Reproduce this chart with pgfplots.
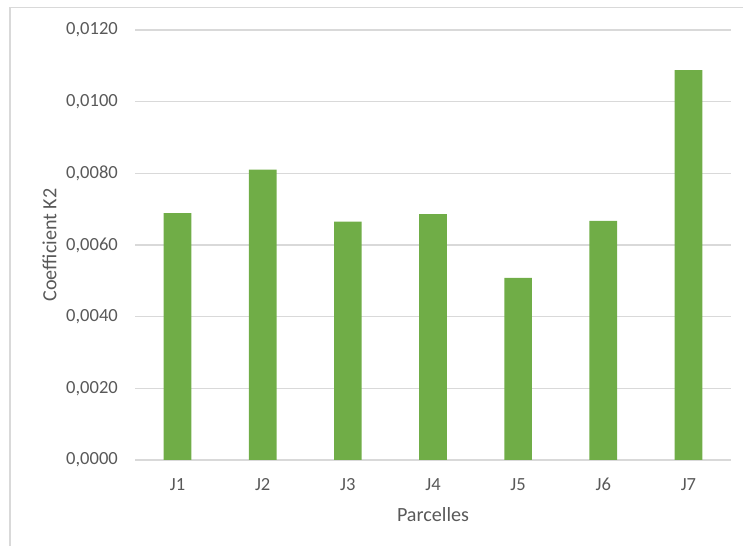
\documentclass[border=0pt]{standalone}
\usepackage{pgfplots}
\pgfplotsset{compat=1.18}
\usepackage{fontspec}
\setmainfont{Carlito}

\definecolor{bargreen}{HTML}{70AD47}
\definecolor{gridgray}{HTML}{D9D9D9}
\definecolor{textgray}{HTML}{595959}
\definecolor{framegray}{HTML}{D9D9D9}

\begin{document}
\begin{tikzpicture}
  % overall canvas of the chart area
  \path[use as bounding box] (0,0) rectangle (743bp,546bp);
  % chart frame (left and top edges)
  \draw[framegray, line width=1.2bp] (10bp,0) -- (10bp,538.7bp) -- (743bp,538.7bp);

  \begin{axis}[
    at={(135bp,86bp)}, anchor=south west,
    scale only axis,
    width=596bp, height=430bp,
    ybar, bar width=27.7bp,
    xmin=-0.5, xmax=6.5,
    ymin=0, ymax=0.012,
    xtick=data,
    xticklabels={J1,J2,J3,J4,J5,J6,J7},
    ytick={0,0.002,0.004,0.006,0.008,0.010,0.012},
    scaled y ticks=false,
    /pgf/number format/.cd, fixed, fixed zerofill, precision=4, use comma, assume math mode=true,
    /pgfplots/.cd,
    major tick length=0pt,
    axis line style={draw=none},
    ymajorgrids,
    grid style={gridgray, line width=1.2bp},
    tick label style={font=\fontsize{18.6}{22}\selectfont, text=textgray},
    yticklabel style={inner sep=0pt, xshift=-17bp},
    xticklabel style={inner sep=0pt, yshift=-18bp},
    label style={font=\fontsize{20.2}{24}\selectfont, text=textgray},
    xlabel={Parcelles},
    ylabel={Coefficient K2},
    xlabel style={at={(axis description cs:0.5,0)}, anchor=center, yshift=-55bp},
    ylabel style={at={(axis description cs:0,0.5)}, anchor=center, rotate=0, yshift=85.5bp},
  ]
    \addplot[fill=bargreen, draw=none] coordinates {
      (0,0.00689) (1,0.00810) (2,0.00665) (3,0.00686)
      (4,0.00508) (5,0.00667) (6,0.01088)
    };
  \end{axis}
\end{tikzpicture}
\end{document}
